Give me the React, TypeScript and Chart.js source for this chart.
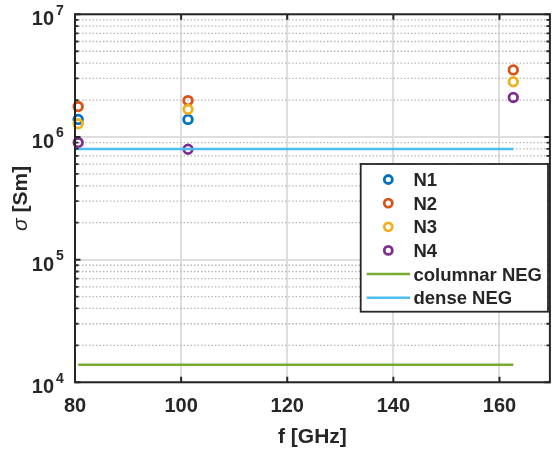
import React, { useEffect, useRef } from 'react';
import { Chart, registerables } from 'chart.js';

Chart.register(...registerables);

// ---- data ----
const freqs = [80.6, 101.3, 162.6];
const n1 = [1.39e6, 1.39e6, null];
const n2 = [1.77e6, 1.98e6, 3.52e6];
const n3 = [1.28e6, 1.68e6, 2.82e6];
const n4 = [9.0e5, 7.94e5, 2.1e6];
const lineFreqs = [80.6, 162.6];
const columnarNEG = [1.39e4, 1.39e4];
const denseNEG = [7.98e5, 7.98e5];
const xTicks = [80, 100, 120, 140, 160];
const yTicks = [1e4, 1e5, 1e6, 1e7];
const seriesLabels = ['N1', 'N2', 'N3', 'N4', 'columnar NEG', 'dense NEG'];
const seriesColors = ['#0072BD', '#D95319', '#EDB120', '#7E2F8E', '#77AC30', '#4DBEEE'];

const FONT = '"Liberation Sans", Arial, Helvetica, sans-serif';
const INK = '#262626';

const framePlugin = {
  id: 'frame',
  beforeDatasetsDraw(chart: any) {
    const { ctx, chartArea: a, scales } = chart;
    const y = scales.y;
    ctx.save();
    ctx.strokeStyle = '#b8b8b8';
    ctx.lineWidth = 1.3;
    ctx.setLineDash([1.5, 2]);
    for (let d = 0; d < yTicks.length - 1; d++) {
      for (let m = 2; m <= 9; m++) {
        const py = y.getPixelForValue(yTicks[d] * m);
        ctx.beginPath();
        ctx.moveTo(a.left, py);
        ctx.lineTo(a.right, py);
        ctx.stroke();
      }
    }
    ctx.restore();
  },
  afterDatasetsDraw(chart: any) {
    const { ctx, chartArea: a, scales } = chart;
    const x = scales.x;
    const y = scales.y;
    ctx.save();
    ctx.strokeStyle = INK;
    ctx.fillStyle = INK;
    ctx.lineWidth = 2;
    ctx.setLineDash([]);
    // box
    ctx.strokeRect(a.left, a.top, a.right - a.left, a.bottom - a.top);
    // x ticks (top & bottom)
    xTicks.forEach((v) => {
      const px = x.getPixelForValue(v);
      ctx.beginPath();
      ctx.moveTo(px, a.bottom);
      ctx.lineTo(px, a.bottom - 5.5);
      ctx.moveTo(px, a.top);
      ctx.lineTo(px, a.top + 5.5);
      ctx.stroke();
    });
    // y major ticks
    yTicks.forEach((v) => {
      const py = y.getPixelForValue(v);
      ctx.beginPath();
      ctx.moveTo(a.left, py);
      ctx.lineTo(a.left + 5.5, py);
      ctx.moveTo(a.right, py);
      ctx.lineTo(a.right - 5.5, py);
      ctx.stroke();
    });
    // y minor ticks
    ctx.lineWidth = 1.8;
    for (let d = 0; d < yTicks.length - 1; d++) {
      for (let m = 2; m <= 9; m++) {
        const py = y.getPixelForValue(yTicks[d] * m);
        ctx.beginPath();
        ctx.moveTo(a.left, py);
        ctx.lineTo(a.left + 3.5, py);
        ctx.moveTo(a.right, py);
        ctx.lineTo(a.right - 3.5, py);
        ctx.stroke();
      }
    }
    // x tick labels
    ctx.font = `bold 20px ${FONT}`;
    ctx.textAlign = 'center';
    ctx.textBaseline = 'alphabetic';
    xTicks.forEach((v) => {
      ctx.fillText(String(v), x.getPixelForValue(v), a.bottom + 29.2);
    });
    // y tick labels 10^k
    yTicks.forEach((v) => {
      const py = y.getPixelForValue(v);
      const exp = Math.round(Math.log10(v));
      ctx.font = `bold 20px ${FONT}`;
      ctx.textAlign = 'right';
      ctx.fillText('10', a.left - 21, py + 11);
      ctx.font = `bold 14px ${FONT}`;
      ctx.textAlign = 'left';
      ctx.fillText(String(exp), a.left - 19, py + 0.3);
    });
    // x title
    ctx.font = `bold 21px ${FONT}`;
    ctx.textAlign = 'center';
    ctx.fillText('f [GHz]', (a.left + a.right) / 2, a.bottom + 61);
    // y title
    ctx.save();
    ctx.translate(27, (a.top + a.bottom) / 2);
    ctx.rotate(-Math.PI / 2);
    ctx.textAlign = 'left';
    const sig = 'σ';
    const rest = ' [Sm]';
    ctx.font = `italic 21px ${FONT}`;
    const w1 = ctx.measureText(sig).width;
    ctx.font = `bold 21px ${FONT}`;
    const w2 = ctx.measureText(rest).width;
    const start = -(w1 + w2) / 2;
    ctx.font = `italic 21px ${FONT}`;
    ctx.fillText(sig, start, 0);
    ctx.font = `bold 21px ${FONT}`;
    ctx.fillText(rest, start + w1, 0);
    ctx.restore();

    // legend
    const L = 360.7, T = 164, R = 548, B = 311.7;
    ctx.fillStyle = '#ffffff';
    ctx.fillRect(L, T, R - L, B - T);
    ctx.strokeStyle = INK;
    ctx.lineWidth = 1.8;
    ctx.strokeRect(L, T, R - L, B - T);
    const ds = chart.data.datasets;
    ds.forEach((d: any, i: number) => {
      const ry = 179.5 + i * 23.64;
      ctx.strokeStyle = d.borderColor;
      if (d.showLine) {
        ctx.lineWidth = 2.5;
        ctx.beginPath();
        ctx.moveTo(366.7, ry);
        ctx.lineTo(410, ry);
        ctx.stroke();
      } else {
        ctx.lineWidth = 2.8;
        ctx.beginPath();
        ctx.arc(388.3, ry, 4, 0, Math.PI * 2);
        ctx.stroke();
      }
      ctx.fillStyle = INK;
      ctx.font = `bold 18.5px ${FONT}`;
      ctx.textAlign = 'left';
      ctx.fillText(d.label, 413.5, ry + 6.6);
    });
    ctx.restore();
  },
};

export default function App() {
  const ref = useRef<HTMLCanvasElement | null>(null);
  useEffect(() => {
    if (!ref.current) return;
    const pts = (ys: (number | null)[]) =>
      freqs.map((f, i) => ({ x: f, y: ys[i] })).filter((p) => p.y !== null);
    const linePts = (ys: number[]) => lineFreqs.map((f, i) => ({ x: f, y: ys[i] }));
    const scatterSeries = [n1, n2, n3, n4];
    const datasets: any[] = scatterSeries.map((s, i) => ({
      label: seriesLabels[i],
      data: pts(s),
      showLine: false,
      borderColor: seriesColors[i],
      backgroundColor: 'rgba(0,0,0,0)',
      pointRadius: 4.3,
      pointBorderWidth: 2.8,
      pointHoverRadius: 4.3,
      clip: false,
      order: 10 - i,
    }));
    [columnarNEG, denseNEG].forEach((s, j) => {
      const i = 4 + j;
      datasets.push({
        label: seriesLabels[i],
        data: linePts(s),
        showLine: true,
        borderColor: seriesColors[i],
        backgroundColor: seriesColors[i],
        borderWidth: 2.5,
        pointRadius: 0,
        clip: false,
        order: 10 - i,
      });
    });
    const chart = new Chart(ref.current, {
      type: 'scatter',
      data: { datasets },
      options: {
        animation: false,
        responsive: false,
        devicePixelRatio: 1,
        layout: { padding: { top: 14.3, right: 1, left: 0, bottom: 0 } },
        plugins: { legend: { display: false }, tooltip: { enabled: false } },
        scales: {
          x: {
            type: 'linear',
            min: 80,
            max: 169.5,
            afterBuildTicks: (s: any) => {
              s.ticks = xTicks.map((v) => ({ value: v }));
            },
            afterFit: (s: any) => {
              s.height = 67.7;
            },
            ticks: { display: false },
            grid: { color: '#dedede', lineWidth: 2, drawTicks: false },
            border: { display: false },
          },
          y: {
            type: 'logarithmic',
            min: 1e4,
            max: 1e7,
            afterBuildTicks: (s: any) => {
              s.ticks = yTicks.map((v) => ({ value: v }));
            },
            afterFit: (s: any) => {
              s.width = 75;
            },
            ticks: { display: false },
            grid: { color: '#dedede', lineWidth: 2, drawTicks: false },
            border: { display: false },
          },
        },
      } as any,
      plugins: [framePlugin],
    });
    return () => chart.destroy();
  }, []);
  return (
    <div style={{ position: 'fixed', left: 0, top: 0, width: 557, height: 450, background: '#fff' }}>
      <canvas ref={ref} width={557} height={450} />
    </div>
  );
}
